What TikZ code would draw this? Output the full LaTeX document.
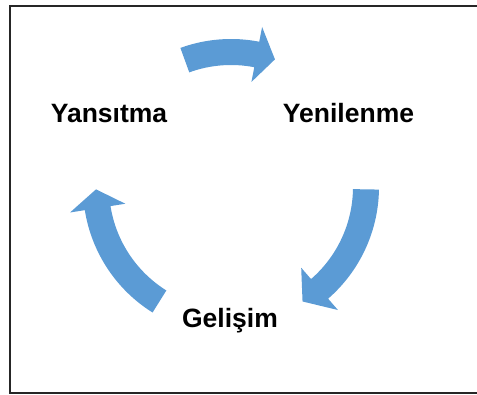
\documentclass[tikz,border=0pt]{standalone}
\usepackage{fontspec}
\setmainfont{Liberation Sans}
\usetikzlibrary{calc}
\definecolor{cycleblue}{HTML}{5B9BD5}
\tikzset{
  label/.style={font=\bfseries\fontsize{26.5}{30}\selectfont, text=black, inner sep=0pt, anchor=base},
  frame/.style={draw=black!85, line width=2pt},
}
% Curved block arrow around centre (c): #1 tail angle, #2 barb angle, #3 tip angle
\newcommand{\cycarrow}[3]{%
  \fill[cycleblue]
    ($(c)+(#1:\rmid+\hw)$) arc[start angle=#1, end angle=#2, radius=\rmid+\hw]
    -- ($(c)+(#2:\rmid+\bw)$)
    -- ($(c)+(#3:\rmid)$)
    -- ($(c)+(#2:\rmid-\bw)$)
    -- ($(c)+(#2:\rmid-\hw)$)
    arc[start angle=#2, end angle=#1, radius=\rmid-\hw]
    -- cycle;}
\begin{document}
\begin{tikzpicture}[x=1pt, y=1pt]
  \useasboundingbox (0,0) rectangle (477,394);
  \def\rmid{135}\def\hw{13}\def\bw{28}
  \coordinate (c) at (231,207);
  % outer frame
  \draw[frame] (10,1.5) rectangle (485,388);
  % cycle arrows
  \cycarrow{110}{79}{71}
  \cycarrow{-1}{-49}{-58}
  \cycarrow{238}{189}{181}
  % labels
  \node[label] (yans) at (109,271) {Yansıtma};
  \node[label] (yeni) at (348.5,271) {Yenilenme};
  \node[label] (geli) at (230,66.5) {Gelişim};
\end{tikzpicture}
\end{document}
